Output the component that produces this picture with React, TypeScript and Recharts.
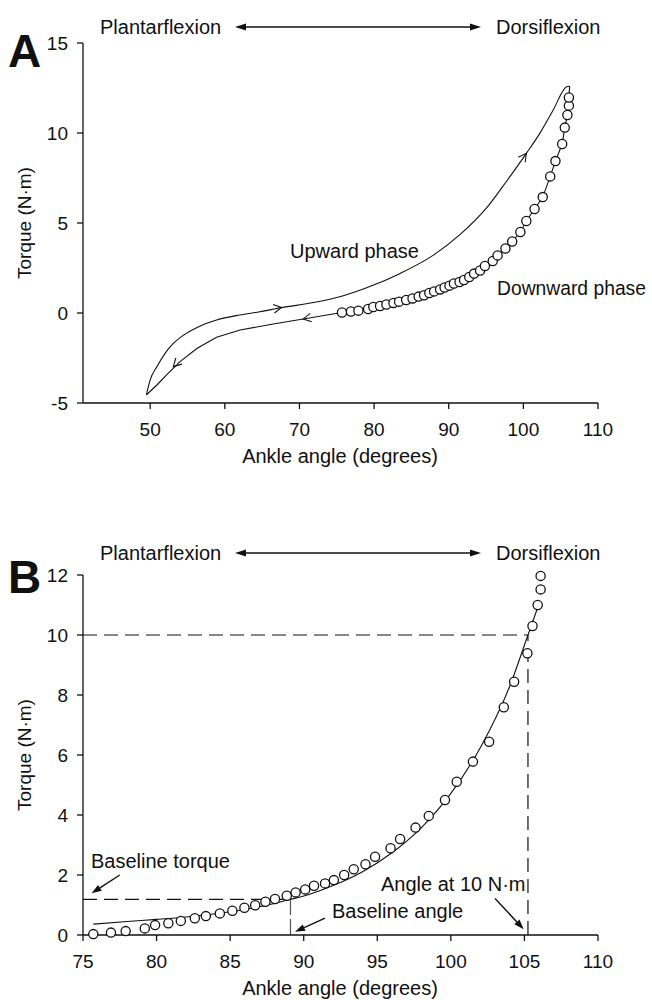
import React from "react";
import {
  ComposedChart,
  Line,
  Scatter,
  XAxis,
  YAxis,
  ReferenceLine,
  ReferenceDot,
} from "recharts";

// downward phase samples (open circles), same trial in both panels
const downAngle = [
  75.7, 76.9, 77.9, 79.2, 79.9, 80.8, 81.65, 82.6, 83.35, 84.3, 85.15, 85.97,
  86.7, 87.4, 88.05, 88.85, 89.45, 90.1, 90.7, 91.45, 92.05, 92.75, 93.4, 94.2,
  94.85, 95.9, 96.55, 97.6, 98.5, 99.6, 100.4, 101.5, 102.6, 103.6, 104.3,
  105.2, 105.55, 105.9, 106.1, 106.1,
];
const downTorque = [
  0.03, 0.08, 0.13, 0.22, 0.33, 0.39, 0.47, 0.56, 0.63, 0.72, 0.81, 0.91, 0.99,
  1.11, 1.2, 1.31, 1.42, 1.52, 1.64, 1.72, 1.83, 2.0, 2.19, 2.36, 2.61, 2.89,
  3.2, 3.58, 3.97, 4.5, 5.11, 5.78, 6.44, 7.59, 8.44, 9.39, 10.3, 11.0, 11.52,
  11.97,
];

// upward phase trace (panel A)
const upAngle = [
  49.5, 50.0, 50.9, 52.0, 53.1, 54.5, 56.3, 58.9, 62.0, 64.7, 67.6, 71.9, 75.4,
  79.0, 83.5, 87.9, 91.5, 95.1, 97.8, 100.4, 102.2, 104.0, 105.8, 106.2,
];
const upTorque = [
  -4.55, -3.72, -2.98, -2.24, -1.69, -1.22, -0.8, -0.39, -0.11, 0.07, 0.3, 0.58,
  0.9, 1.4, 2.2, 3.2, 4.35, 5.85, 7.35, 8.87, 9.98, 11.28, 12.57, 12.6,
];

// downward trace below the sampled part (panel A)
const tailAngle = [70.5, 66.5, 62.05, 58.9, 56.3, 54.0, 52.2, 50.9, 49.8, 49.5];
const tailTorque = [-0.33, -0.61, -0.94, -1.35, -1.96, -2.7, -3.44, -4.0, -4.43, -4.55];

// fitted curve (panel B)
const fitAngle = [
  75.7, 78, 80, 82, 84, 86, 88, 89.1, 90, 92, 94, 96, 98, 100, 102, 104, 105.24, 106,
];
const fitTorque = [
  0.36, 0.45, 0.52, 0.6, 0.71, 0.85, 1.05, 1.19, 1.3, 1.65, 2.11, 2.74, 3.58,
  4.72, 6.24, 8.29, 10.0, 11.05,
];

const baselineAngle = 89.1;
const baselineTorque = 1.19;
const angleAt10 = 105.24;

const ticksAX = [50, 60, 70, 80, 90, 100, 110];
const ticksAY = [-5, 0, 5, 10, 15];
const ticksBX = [75, 80, 85, 90, 95, 100, 105, 110];
const ticksBY = [0, 2, 4, 6, 8, 10, 12];

const pts = (xs: number[], ys: number[]) => xs.map((x, i) => ({ x, y: ys[i] }));

const circles = pts(downAngle, downTorque);
const upLine = pts(upAngle, upTorque);
const downLine = [
  { x: upAngle[upAngle.length - 1], y: upTorque[upTorque.length - 1] },
  ...circles.slice().reverse(),
  ...pts(tailAngle, tailTorque),
];
const fitLine = pts(fitAngle, fitTorque);

const INK = "#111";
const FONT = "'Liberation Sans', Arial, Helvetica, sans-serif";
const axisLine = { stroke: INK, strokeWidth: 1.3 };
const tick = { fill: INK, fontSize: 19, fontFamily: FONT };

const openCircle = (p: any) => (
  <circle cx={p.cx} cy={p.cy} r={4.6} fill="#fff" stroke={INK} strokeWidth={1.3} />
);

const chevron = (deg: number) => (p: any) => {
  const a = (deg * Math.PI) / 180;
  const L = 9;
  const s = 0.5;
  const x1 = p.cx - L * Math.cos(a - s);
  const y1 = p.cy - L * Math.sin(a - s);
  const x2 = p.cx - L * Math.cos(a + s);
  const y2 = p.cy - L * Math.sin(a + s);
  return (
    <path
      d={`M${x1},${y1}L${p.cx},${p.cy}L${x2},${y2}`}
      fill="none"
      stroke={INK}
      strokeWidth={1.1}
    />
  );
};

const arrow = (p: any) => {
  const { x1, y1, x2, y2 } = p;
  const a = Math.atan2(y2 - y1, x2 - x1);
  const L = 10;
  const w = 3.5;
  const bx = x2 - L * Math.cos(a);
  const by = y2 - L * Math.sin(a);
  const nx = -Math.sin(a) * w;
  const ny = Math.cos(a) * w;
  return (
    <g>
      <line x1={x1} y1={y1} x2={bx} y2={by} stroke={INK} strokeWidth={1.4} />
      <path d={`M${x2},${y2}L${bx + nx},${by + ny}L${bx - nx},${by - ny}Z`} fill={INK} />
    </g>
  );
};

function Header({ y, letter }: { y: number; letter: string }) {
  return (
    <g fontFamily={FONT} fill={INK}>
      <text x={8} y={y + 18} fontSize={46} fontWeight="bold">
        {letter}
      </text>
      <text x={100} y={y - 15} fontSize={20}>
        Plantarflexion
      </text>
      <line x1={245} y1={y - 22} x2={471} y2={y - 22} stroke={INK} strokeWidth={1.4} />
      <path d={`M235,${y - 22}L246,${y - 25.5}L246,${y - 18.5}Z`} />
      <path d={`M481,${y - 22}L470,${y - 25.5}L470,${y - 18.5}Z`} />
      <text x={496} y={y - 15} fontSize={20}>
        Dorsiflexion
      </text>
    </g>
  );
}

export default function App() {
  return (
    <div
      style={{
        position: "absolute",
        left: 0,
        top: 0,
        width: 652,
        height: 1000,
        background: "#fff",
        overflow: "hidden",
      }}
    >
      <div style={{ position: "absolute", left: 0, top: 0 }}>
        <ComposedChart width={652} height={480} margin={{ top: 43, right: 54, bottom: 17, left: 0 }}>
          <XAxis
            type="number"
            dataKey="x"
            domain={[41, 110]}
            ticks={ticksAX}
            height={60}
            tickSize={6}
            tickMargin={14}
            axisLine={axisLine}
            tickLine={axisLine}
            tick={tick}
          />
          <YAxis
            type="number"
            dataKey="y"
            domain={[-5, 15]}
            ticks={ticksAY}
            width={83}
            tickSize={6}
            tickMargin={9}
            axisLine={axisLine}
            tickLine={axisLine}
            tick={tick}
          />
          <Line data={upLine} dataKey="y" type="monotone" stroke={INK} strokeWidth={1.1} dot={false} isAnimationActive={false} />
          <Line data={downLine} dataKey="y" type="linear" stroke={INK} strokeWidth={1.1} dot={false} isAnimationActive={false} />
          <Scatter data={circles} dataKey="y" shape={openCircle} isAnimationActive={false} />
          <ReferenceDot x={67.6} y={0.31} ifOverflow="visible" shape={chevron(-10)} />
          <ReferenceDot x={100.4} y={8.87} ifOverflow="visible" shape={chevron(-54)} />
          <ReferenceDot x={70.5} y={-0.33} ifOverflow="visible" shape={chevron(170)} />
          <ReferenceDot x={53.1} y={-2.98} ifOverflow="visible" shape={chevron(135)} />
        </ComposedChart>
      </div>

      <div style={{ position: "absolute", left: 0, top: 532 }}>
        <ComposedChart width={652} height={468} margin={{ top: 43, right: 54, bottom: 5, left: 0 }}>
          <XAxis
            type="number"
            dataKey="x"
            domain={[75, 110]}
            ticks={ticksBX}
            height={60}
            tickSize={6}
            tickMargin={14}
            axisLine={axisLine}
            tickLine={axisLine}
            tick={tick}
          />
          <YAxis
            type="number"
            dataKey="y"
            domain={[0, 12]}
            ticks={ticksBY}
            width={83}
            tickSize={6}
            tickMargin={9}
            axisLine={axisLine}
            tickLine={axisLine}
            tick={tick}
          />
          <ReferenceLine segment={[{ x: 75, y: 10 }, { x: angleAt10, y: 10 }]} stroke={INK} strokeWidth={1.2} strokeDasharray="14 7" />
          <ReferenceLine segment={[{ x: angleAt10, y: 0 }, { x: angleAt10, y: 10 }]} stroke={INK} strokeWidth={1.2} strokeDasharray="14 7" />
          <ReferenceLine segment={[{ x: 75, y: baselineTorque }, { x: baselineAngle, y: baselineTorque }]} stroke={INK} strokeWidth={1.2} strokeDasharray="14 7" />
          <ReferenceLine segment={[{ x: baselineAngle, y: 0 }, { x: baselineAngle, y: baselineTorque }]} stroke="#555" strokeWidth={1.2} strokeDasharray="16 4" />
          <Line data={fitLine} dataKey="y" type="monotone" stroke={INK} strokeWidth={1.1} dot={false} isAnimationActive={false} />
          <Scatter data={circles} dataKey="y" shape={openCircle} isAnimationActive={false} />
          <ReferenceLine segment={[{ x: 77.5, y: 2.0 }, { x: 75.58, y: 1.39 }]} ifOverflow="visible" shape={arrow} />
          <ReferenceLine segment={[{ x: 91.45, y: 0.56 }, { x: 89.41, y: 0.11 }]} ifOverflow="visible" shape={arrow} />
          <ReferenceLine segment={[{ x: 103.0, y: 1.22 }, { x: 104.95, y: 0.19 }]} ifOverflow="visible" shape={arrow} />
        </ComposedChart>
      </div>

      <svg
        width={652}
        height={1000}
        style={{ position: "absolute", left: 0, top: 0, pointerEvents: "none" }}
      >
        <Header y={49} letter="A" />
        <Header y={575} letter="B" />
        <g fontFamily={FONT} fill={INK} fontSize={20}>
          <text x={31} y={223} fontSize={19} textAnchor="middle" transform="rotate(-90 31 223)">
            Torque (N·m)
          </text>
          <text x={31} y={755} fontSize={19} textAnchor="middle" transform="rotate(-90 31 755)">
            Torque (N·m)
          </text>
          <text x={340} y={463} textAnchor="middle">
            Ankle angle (degrees)
          </text>
          <text x={340} y={995} textAnchor="middle">
            Ankle angle (degrees)
          </text>
          <text x={290} y={258}>Upward phase</text>
          <text x={497} y={295} fontSize={19.3}>Downward phase</text>
          <text x={91} y={868}>Baseline torque</text>
          <text x={332} y={918}>Baseline angle</text>
          <text x={381} y={891}>Angle at 10 N·m</text>
        </g>
      </svg>
    </div>
  );
}
